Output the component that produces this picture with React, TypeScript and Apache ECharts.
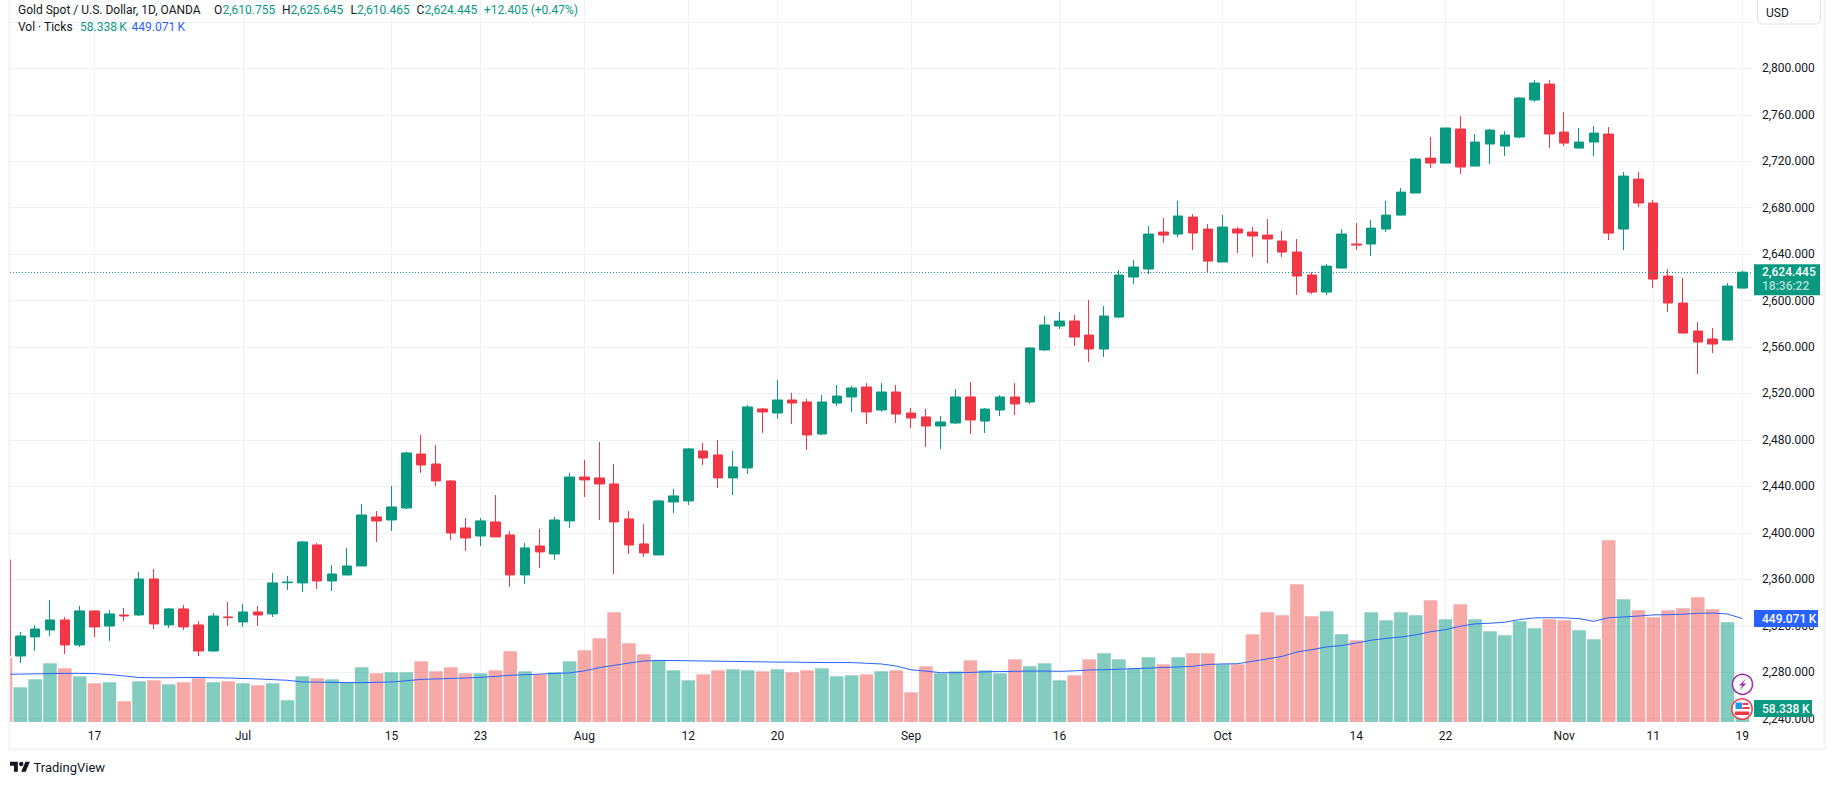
import React, { useEffect, useRef } from 'react';
import * as echarts from 'echarts';

// Daily candles, Jun 7 to Nov 19 (weekdays only)
const opens = [
	2376.7,
	2294.0, 2310.4, 2316.4, 2325.0, 2303.5, 2332.8, 2319.8, 2329.3, 2329.3, 2360.3,
	2320.7, 2334.5, 2320.7, 2298.3, 2327.6, 2323.3, 2331.9, 2330.2, 2357.1, 2356.9,
	2389.6, 2358.6, 2363.7, 2371.5, 2413.7, 2411.1, 2421.4, 2467.9, 2459.3, 2444.7,
	2404.2, 2397.3, 2409.4, 2398.2, 2363.8, 2388.7, 2381.8, 2410.3, 2448.1, 2447.3,
	2442.1, 2412.0, 2390.5, 2381.0, 2426.6, 2427.5, 2470.5, 2467.1, 2447.3, 2455.9,
	2506.7, 2503.2, 2514.4, 2512.7, 2485.1, 2511.8, 2517.0, 2525.6, 2505.8, 2521.3,
	2503.2, 2499.8, 2492.0, 2494.6, 2517.0, 2496.3, 2505.8, 2517.0, 2512.7, 2557.5,
	2578.1, 2582.4, 2570.3, 2558.3, 2585.8, 2620.3, 2627.2, 2659.0, 2657.3, 2671.9,
	2661.6, 2633.2, 2661.6, 2659.0, 2656.4, 2651.3, 2641.8, 2622.0, 2607.3, 2628.0,
	2648.7, 2648.7, 2661.6, 2673.6, 2692.6, 2722.7, 2718.4, 2747.7, 2715.8, 2734.8,
	2733.1, 2740.8, 2772.7, 2786.4, 2745.1, 2731.3, 2736.5, 2743.4, 2661.6, 2704.6,
	2684.0, 2621.1, 2597.9, 2573.8, 2566.9, 2566.0, 2610.755
];
const closes = [
	2294.0,
	2311.2, 2317.2, 2325.0, 2303.5, 2332.8, 2319.0, 2330.2, 2328.4, 2360.3, 2321.6,
	2334.5, 2319.0, 2298.3, 2328.4, 2327.0, 2331.9, 2329.3, 2356.9, 2357.7, 2392.2,
	2358.6, 2364.6, 2371.5, 2415.4, 2410.2, 2422.3, 2468.8, 2458.5, 2444.7, 2399.9,
	2395.6, 2410.3, 2396.5, 2363.8, 2387.0, 2383.6, 2411.1, 2448.1, 2445.6, 2442.1,
	2409.4, 2389.6, 2382.7, 2427.5, 2431.8, 2472.3, 2464.5, 2447.3, 2456.8, 2508.4,
	2504.1, 2514.4, 2511.8, 2484.3, 2512.7, 2517.8, 2524.7, 2504.1, 2521.3, 2502.3,
	2498.9, 2492.0, 2495.5, 2517.0, 2497.2, 2506.6, 2517.0, 2511.0, 2559.2, 2579.0,
	2582.4, 2568.6, 2558.3, 2586.7, 2622.0, 2628.9, 2657.3, 2656.4, 2672.8, 2658.2,
	2634.0, 2663.3, 2658.2, 2655.6, 2653.0, 2641.8, 2621.1, 2607.3, 2629.7, 2657.3,
	2647.8, 2662.4, 2673.6, 2693.4, 2721.9, 2718.4, 2748.6, 2715.0, 2736.5, 2746.8,
	2742.5, 2774.4, 2787.3, 2743.4, 2735.6, 2736.5, 2744.2, 2658.1, 2707.2, 2684.0,
	2618.5, 2597.9, 2572.0, 2564.3, 2562.6, 2612.5, 2624.445
];
const lows = [
	2290.0,
	2288.0, 2298.3, 2311.2, 2295.7, 2301.8, 2310.4, 2306.9, 2324.1, 2328.4, 2317.2,
	2318.1, 2316.4, 2294.0, 2297.4, 2319.8, 2319.0, 2319.8, 2327.6, 2350.8, 2349.1,
	2351.7, 2350.0, 2363.7, 2371.5, 2392.2, 2401.6, 2420.6, 2451.6, 2440.4, 2393.9,
	2384.4, 2388.7, 2396.5, 2353.4, 2356.0, 2369.8, 2376.7, 2404.2, 2430.9, 2411.1,
	2364.6, 2381.8, 2379.3, 2381.0, 2417.1, 2424.0, 2458.5, 2438.7, 2432.6, 2450.7,
	2486.0, 2498.1, 2493.7, 2471.4, 2484.3, 2509.2, 2504.1, 2493.7, 2504.1, 2494.6,
	2490.3, 2474.0, 2472.2, 2493.7, 2485.1, 2486.0, 2500.6, 2501.5, 2511.0, 2556.6,
	2575.5, 2560.9, 2547.1, 2551.4, 2584.9, 2614.3, 2622.9, 2649.5, 2654.7, 2643.5,
	2624.6, 2633.2, 2640.9, 2637.5, 2632.3, 2637.5, 2604.8, 2605.6, 2604.8, 2628.0,
	2643.5, 2638.3, 2659.0, 2673.6, 2692.6, 2714.1, 2718.4, 2709.0, 2715.8, 2717.6,
	2724.4, 2739.9, 2770.9, 2731.3, 2733.1, 2731.3, 2724.4, 2652.1, 2643.5, 2680.5,
	2610.8, 2590.1, 2572.0, 2536.8, 2554.8, 2566.0, 2610.465
];
const highs = [
	2378.0,
	2314.7, 2320.7, 2342.2, 2327.6, 2337.1, 2332.8, 2333.6, 2335.3, 2366.3, 2368.9,
	2335.3, 2337.9, 2324.1, 2331.0, 2340.5, 2338.8, 2337.1, 2365.5, 2362.9, 2393.0,
	2391.3, 2372.4, 2387.0, 2424.9, 2418.8, 2440.4, 2469.7, 2484.3, 2475.7, 2445.6,
	2412.8, 2412.8, 2432.6, 2401.6, 2391.3, 2403.4, 2413.7, 2451.6, 2462.8, 2478.3,
	2459.3, 2418.9, 2407.7, 2428.3, 2437.8, 2473.1, 2477.4, 2480.0, 2470.5, 2510.1,
	2507.6, 2531.7, 2520.5, 2515.3, 2518.7, 2527.3, 2526.5, 2529.0, 2529.0, 2527.3,
	2507.5, 2506.6, 2500.6, 2523.9, 2529.9, 2507.5, 2518.7, 2529.0, 2560.0, 2586.7,
	2590.2, 2587.6, 2600.5, 2595.3, 2626.3, 2634.9, 2664.2, 2671.1, 2685.7, 2674.5,
	2665.9, 2673.6, 2663.3, 2663.3, 2670.2, 2659.9, 2653.0, 2624.6, 2631.5, 2661.6,
	2666.8, 2669.3, 2685.7, 2696.9, 2722.7, 2740.8, 2748.6, 2758.9, 2743.4, 2747.7,
	2746.0, 2775.2, 2789.9, 2789.9, 2762.3, 2748.6, 2750.3, 2749.4, 2710.7, 2710.7,
	2686.6, 2627.2, 2619.4, 2581.5, 2576.4, 2615.1, 2625.645
];
// Volume in thousands of ticks
const volumes = [
	278,
	150.7, 185.4, 254.9, 233, 198.4, 168, 172.4, 89.9, 176.7, 181,
	163.7, 172.4, 189.7, 172.4, 176.7, 168, 159.3, 168, 94.2, 198.4,
	189.7, 185.4, 172.4, 237.5, 211.4, 215.8, 215.8, 263.5, 220.1, 237.5,
	211.4, 211.4, 224.5, 306.9, 220.1, 207, 215.8, 263.5, 311.3, 363.4,
	476.3, 341.6, 293.9, 267.8, 224.4, 181, 207, 224.4, 228.7, 224.4,
	220.1, 228.7, 215.8, 224.4, 233, 198.3, 202.7, 207, 220.1, 224.4,
	128.9, 241.8, 211.4, 220.1, 267.8, 224.4, 211.4, 272.1, 241.8, 254.9,
	181, 202.7, 272.1, 298.2, 272.1, 231, 280.8, 250.4, 280.8, 298.2,
	298.2, 250.6, 250.6, 380.9, 476.4, 463.3, 598, 459, 480.7, 380.9,
	354.8, 476.4, 441.6, 476.4, 463.3, 528.5, 446, 511, 446, 393.9,
	376.5, 437.3, 406.9, 446, 441.6, 398.2, 359.1, 789, 532.8, 485,
	454.7, 485, 493.7, 541.5, 489.4, 432.9, 58.338
];
const volumeMa = [
	207,
	208, 209, 210, 211, 211, 210, 206, 200, 193, 192,
	192, 193, 193, 192, 191, 189, 187, 184, 181, 174,
	173, 172, 171, 171, 172, 174, 179, 185, 187, 189,
	191, 194, 198, 203, 205, 208, 211, 213, 222, 236,
	246, 256, 265, 267, 267, 266, 265, 264, 263, 262,
	261, 260, 260, 259, 258, 258, 258, 255, 252, 243,
	227, 221, 214, 214, 215, 218, 219, 220, 221, 221,
	220, 222, 226, 227, 229, 232, 234, 237, 239, 242,
	250, 252, 253, 263.6, 274, 285, 304, 314, 326, 332,
	343, 355, 363, 369, 378, 392, 401, 416, 426, 429,
	433, 445, 452, 453, 452, 449, 437, 453, 456, 460,
	465, 466, 468, 472, 473, 469, 449.071
];

const timeTickBars = [6, 16, 26, 32, 39, 46, 52, 61, 71, 82, 91, 97, 105, 111, 117];
const timeTickLabels = ['17', 'Jul', '15', '23', 'Aug', '12', '20', 'Sep', '16', 'Oct', '14', '22', 'Nov', '11', '19'];
const priceLabels = [2240, 2280, 2320, 2360, 2400, 2440, 2480, 2520, 2560, 2600, 2640, 2680, 2720, 2760, 2800];
const priceGrid = [...priceLabels, 2840];

const lastClose = 2624.445;
const lastVolume = 58.338;
const lastMa = 449.071;

const UP = '#089981';
const DOWN = '#f23645';
const TEXT = '#131722';
const BLUE = '#2962ff';
const BORDER = '#f0f3fa';
const GRIDLINE = '#f0f1f4';
const FONT = 'Roboto, sans-serif';

echarts.graphic.registerShape(
	'tvLogo',
	echarts.graphic.extendPath('M14 22H7V11H0V4h14v18zM28 22h-8l7.5-18h8L28 22z', {}) as any
);

const txt = (text: string, x: number, y: number, fill: string, extra: any = {}) => ({
	type: 'text',
	x,
	y,
	z: 100,
	style: { text, fill, font: `12px ${FONT}`, textVerticalAlign: 'middle', ...extra }
});

const App: React.FC = () => {
	const chartRef = useRef<HTMLDivElement>(null);

	useEffect(() => {
		if (!chartRef.current) return;
		document.body.style.margin = '0';
		const chart = echarts.init(chartRef.current, undefined, { renderer: 'svg' });

		const candleData = opens.map((o, i) => [i, o, closes[i], lows[i], highs[i]]);
		const volumeData = volumes.map((v, i) => ({
			value: [i, v],
			itemStyle: { color: closes[i] >= opens[i] ? 'rgba(8,153,129,0.5)' : 'rgba(239,83,80,0.5)' }
		}));
		const maData = volumeMa.map((v, i) => [i, v]);

		chart.setOption({
			animation: false,
			backgroundColor: '#ffffff',
			textStyle: { fontFamily: FONT },
			grid: { left: 10, right: 82, top: 0, bottom: 63 },
			xAxis: {
				type: 'value',
				min: 0.306,
				max: 117.72,
				axisLine: { show: false },
				axisTick: { show: false, customValues: timeTickBars },
				splitLine: { show: true, lineStyle: { color: GRIDLINE, width: 1 } },
				axisLabel: {
					customValues: timeTickBars,
					color: TEXT,
					fontSize: 12,
					margin: 8,
					formatter: (v: number) => timeTickLabels[timeTickBars.indexOf(v)] ?? ''
				}
			},
			yAxis: [
				{
					type: 'value',
					position: 'right',
					min: 2237.15,
					max: 2858.81,
					axisLine: { show: false },
					axisTick: { show: false, customValues: priceGrid },
					splitLine: { show: true, lineStyle: { color: GRIDLINE, width: 1 } },
					axisLabel: {
						customValues: priceLabels,
						color: TEXT,
						fontSize: 12,
						margin: 9,
						formatter: (v: number) => v.toLocaleString('en-US', { minimumFractionDigits: 3 })
					}
				},
				{ type: 'value', min: 0, max: 3135, show: false, splitLine: { show: false } }
			],
			series: [
				{
					type: 'bar',
					yAxisIndex: 1,
					barWidth: 13.6,
					data: volumeData
				},
				{
					type: 'line',
					yAxisIndex: 1,
					showSymbol: false,
					lineStyle: { color: BLUE, width: 1 },
					data: maData
				},
				{
					type: 'candlestick',
					yAxisIndex: 0,
					barWidth: 10,
					encode: { x: 0, y: [1, 2, 3, 4] },
					itemStyle: { color: UP, color0: DOWN, borderColor: UP, borderColor0: DOWN, borderWidth: 1 },
					data: candleData,
					markLine: {
						silent: true,
						symbol: 'none',
						label: { show: false },
						lineStyle: { color: UP, type: [1, 2], width: 1 },
						data: [{ yAxis: lastClose }]
					}
				}
			]
		});

		// Axis tags sit on the scale, so ask the axes where they go
		const priceY = chart.convertToPixel({ yAxisIndex: 0 }, lastClose) as number;
		const maY = chart.convertToPixel({ yAxisIndex: 1 }, lastMa) as number;
		const volY = chart.convertToPixel({ yAxisIndex: 1 }, lastVolume) as number;

		const tag = { font: `500 12px ${FONT}` };
		chart.setOption({
			graphic: [
				// the first candle starts off the panel, hide what falls left of it
				{ type: 'rect', z: 80, shape: { x: 0, y: 0, width: 9, height: 785 }, style: { fill: '#ffffff' } },

				// panel borders
				{ type: 'rect', z: 90, shape: { x: 8.5, y: 0, width: 1.7, height: 750 }, style: { fill: BORDER } },
				{ type: 'rect', z: 90, shape: { x: 1823.5, y: 0, width: 2, height: 750 }, style: { fill: BORDER } },
				{ type: 'rect', z: 90, shape: { x: 8.5, y: 748.5, width: 1817, height: 2 }, style: { fill: BORDER } },

				// legend
				txt('Gold Spot / U.S. Dollar, 1D, OANDA', 18, 10, TEXT),
				txt('O', 214, 10, TEXT),
				txt('2,610.755', 222.5, 10, UP),
				txt('H', 282, 10, TEXT),
				txt('2,625.645', 290.5, 10, UP),
				txt('L', 350.5, 10, TEXT),
				txt('2,610.465', 357, 10, UP),
				txt('C', 416.5, 10, TEXT),
				txt('2,624.445', 424.5, 10, UP),
				txt('+12.405 (+0.47%)', 484, 10, UP),
				txt('Vol · Ticks', 18, 26.5, TEXT),
				txt('58.338\u2009K', 80, 26.5, UP),
				txt('449.071\u2009K', 131.5, 26.5, BLUE),

				// currency button
				{
					type: 'rect',
					z: 100,
					shape: { x: 1757.5, y: -5, width: 63, height: 29, r: 4 },
					style: { fill: '#ffffff', stroke: '#e0e3eb', lineWidth: 1 }
				},
				txt('USD', 1766, 12.5, TEXT),

				// last price tag
				{ type: 'rect', z: 100, shape: { x: 1754, y: priceY - 8, width: 66, height: 31 }, style: { fill: UP } },
				txt('2,624.445', 1762, priceY - 0.5, '#ffffff', tag),
				txt('18:36:22', 1762, priceY + 13.5, 'rgba(255,255,255,0.7)', tag),

				// moving average tag
				{ type: 'rect', z: 100, shape: { x: 1754, y: maY - 8.5, width: 64, height: 17 }, style: { fill: BLUE } },
				txt('449.071\u2009K', 1762, maY, '#ffffff', tag),

				// volume tag
				{ type: 'rect', z: 100, shape: { x: 1754, y: volY - 8.5, width: 58, height: 17 }, style: { fill: UP } },
				txt('58.338\u2009K', 1762, volY, '#ffffff', tag),

				// event badges
				{
					type: 'circle',
					z: 110,
					shape: { cx: 1742.5, cy: 684.3, r: 10 },
					style: { fill: '#ffffff', stroke: '#9c27b0', lineWidth: 1.5 }
				},
				{
					type: 'polygon',
					z: 111,
					shape: {
						points: [
							[1746, 678.5],
							[1739, 685.5],
							[1742.5, 685.5],
							[1739.5, 690.5],
							[1746.3, 683.5],
							[1742.8, 683.5]
						]
					},
					style: { fill: '#9c27b0' }
				},
				{
					type: 'circle',
					z: 110,
					shape: { cx: 1742, cy: 709, r: 10.2 },
					style: { fill: '#ffffff', stroke: DOWN, lineWidth: 1.5 }
				},
				{ type: 'rect', z: 111, shape: { x: 1735.5, y: 702.5, width: 6.5, height: 6.5 }, style: { fill: '#2196f3' } },
				{ type: 'rect', z: 111, shape: { x: 1742.5, y: 703, width: 5.5, height: 2 }, style: { fill: DOWN } },
				{ type: 'rect', z: 111, shape: { x: 1742.5, y: 707, width: 7, height: 2 }, style: { fill: DOWN } },
				{ type: 'rect', z: 111, shape: { x: 1735, y: 711.5, width: 14, height: 3.5 }, style: { fill: DOWN } },

				// logo
				{
					type: 'tvLogo',
					x: 10,
					y: 759.5,
					scaleX: 0.56,
					scaleY: 0.56,
					z: 100,
					style: { fill: TEXT }
				},
				{ type: 'circle', z: 100, shape: { cx: 21.2, cy: 764, r: 2.2 }, style: { fill: TEXT } },
				txt('TradingView', 33.5, 767, TEXT, { font: `13px ${FONT}` })
			]
		});

		return () => {
			chart.dispose();
		};
	}, []);

	return <div ref={chartRef} style={{ position: 'absolute', left: 0, top: 0, width: 1835, height: 785 }} />;
};

export default App;
